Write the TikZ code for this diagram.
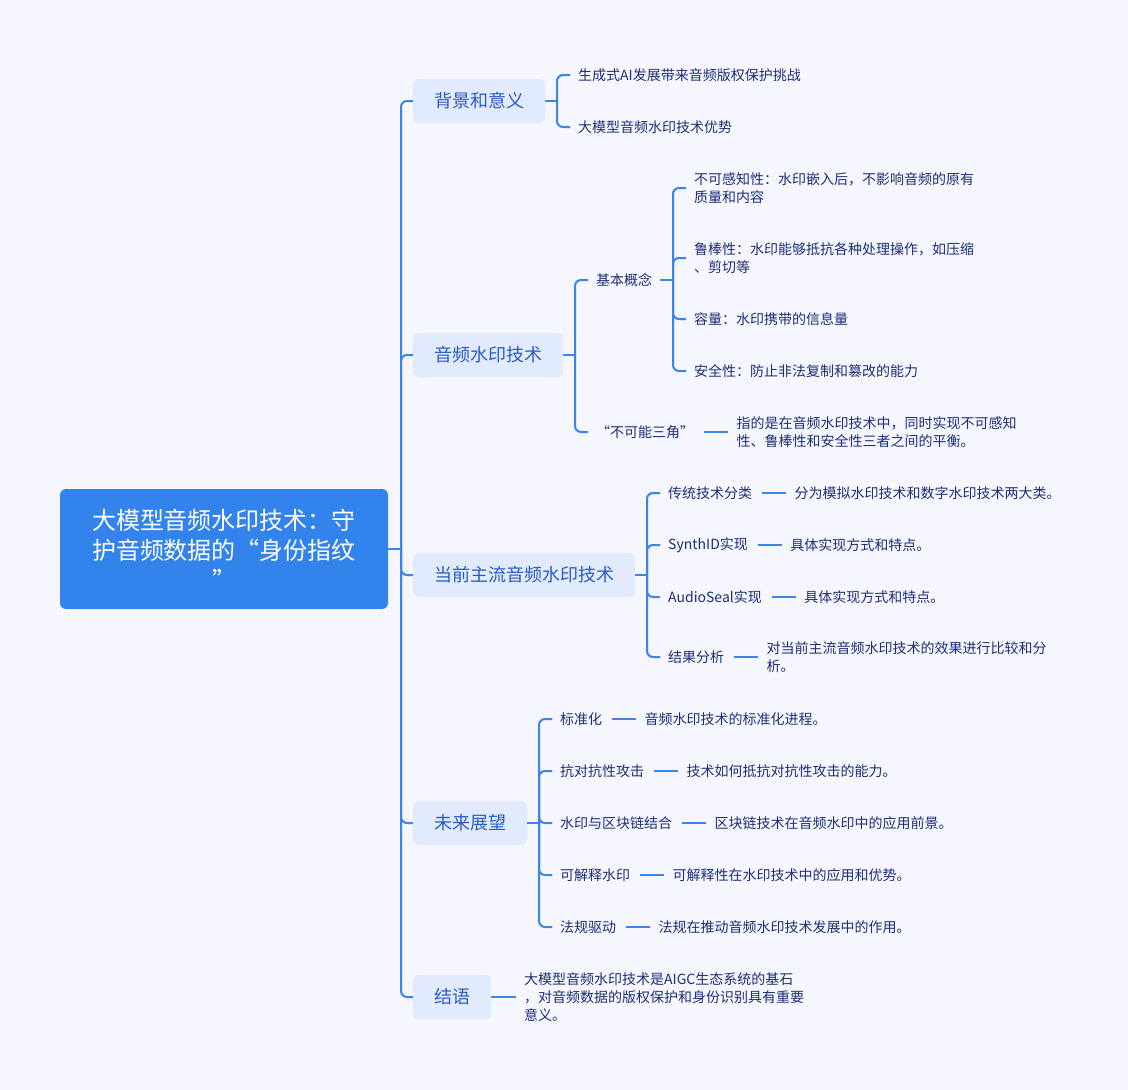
\documentclass[tikz,border=0pt]{standalone}
\usepackage{fontspec}
\setmainfont{Noto Sans CJK SC}
\usetikzlibrary{positioning}
\definecolor{bg}{HTML}{F5F6FE}
\definecolor{ln}{HTML}{3A84EC}
\definecolor{rootc}{HTML}{3283EB}
\definecolor{lonefill}{HTML}{E2EAFD}
\definecolor{lonetext}{HTML}{2A5CC6}
\definecolor{leafc}{HTML}{1F2E78}
\tikzset{
 rootbox/.style={fill=rootc, rounded corners=6pt, text=white, minimum width=328pt, minimum height=120pt, align=center, font=\fontsize{24pt}{30pt}\selectfont, inner sep=0pt},
 lonebox/.style={fill=lonefill, rounded corners=6pt, text=lonetext, minimum height=44pt, inner xsep=21pt, inner ysep=0pt, font=\fontsize{18pt}{22pt}\selectfont, anchor=west},
 leaftext/.style={text=leafc, font=\fontsize{14pt}{18pt}\selectfont, inner sep=0pt, anchor=west, align=left},
 valtext/.style={leaftext, right=42pt of #1},
 conn/.style={draw=ln, line width=2pt, rounded corners=6pt},
}
\begin{document}
\begin{tikzpicture}[x=1pt,y=-1pt]
\fill[bg] (0,0) rectangle (1128,1090);
\useasboundingbox (0,0) rectangle (1128,1090);

% root
\node[rootbox] (root) at (224,549) {大模型音频水印技术：守\\护音频数据的“身份指纹\\”};
\coordinate (t) at (401,549);
\draw[conn] (root.east) -- (t);

% level 1
\node[lonebox] (b1) at (413,101) {背景和意义};
\node[lonebox] (b2) at (413,355) {音频水印技术};
\node[lonebox] (b3) at (413,575) {当前主流音频水印技术};
\node[lonebox] (b4) at (413,823) {未来展望};
\node[lonebox] (b5) at (413,997) {结语};
\foreach \b in {b1,b2,b3,b4,b5} \draw[conn] (t) |- (\b.west);

% b1
\coordinate (j1) at (557,101);
\draw[conn] (b1.east) -- (j1);
\node[leaftext] (c11) at (578,75) {生成式AI发展带来音频版权保护挑战};
\node[leaftext] (c12) at (578,127) {大模型音频水印技术优势};
\foreach \c in {c11,c12} \draw[conn] (j1) |- ([xshift=-8pt]\c.west);

% b2
\coordinate (j2) at (575,355);
\draw[conn] (b2.east) -- (j2);
\node[leaftext] (c21) at (596,280) {基本概念};
\node[leaftext] (c22) at (596,432) {“不可能三角”};
\foreach \c in {c21,c22} \draw[conn] (j2) |- ([xshift=-8pt]\c.west);

\coordinate (j21) at (673,280);
\draw[conn] ([xshift=8pt]c21.east) -- (j21);
\node[leaftext] (d1) at (694,188) {不可感知性：水印嵌入后，不影响音频的原有\\质量和内容};
\node[leaftext] (d2) at (694,258) {鲁棒性：水印能够抵抗各种处理操作，如压缩\\、剪切等};
\node[leaftext] (d3) at (694,319) {容量：水印携带的信息量};
\node[leaftext] (d4) at (694,371) {安全性：防止非法复制和篡改的能力};
\foreach \c in {d1,d2,d3,d4} \draw[conn] (j21) |- ([xshift=-8pt]\c.west);

\node[valtext=c22] (v22) {指的是在音频水印技术中，同时实现不可感知\\性、鲁棒性和安全性三者之间的平衡。};
\draw[conn] ([xshift=10pt]c22.east) -- ([xshift=-8pt]v22.west);

% b3
\coordinate (j3) at (647,575);
\draw[conn] (b3.east) -- (j3);
\node[leaftext] (c31) at (668,493) {传统技术分类};
\node[leaftext] (c32) at (668,545) {SynthID实现};
\node[leaftext] (c33) at (668,597) {AudioSeal实现};
\node[leaftext] (c34) at (668,657) {结果分析};
\foreach \c in {c31,c32,c33,c34} \draw[conn] (j3) |- ([xshift=-8pt]\c.west);
\node[valtext=c31] (v31) {分为模拟水印技术和数字水印技术两大类。};
\node[valtext=c32] (v32) {具体实现方式和特点。};
\node[valtext=c33] (v33) {具体实现方式和特点。};
\node[valtext=c34] (v34) {对当前主流音频水印技术的效果进行比较和分\\析。};
\foreach \k/\v in {c31/v31,c32/v32,c33/v33,c34/v34}
  \draw[conn] ([xshift=10pt]\k.east) -- ([xshift=-8pt]\v.west);

% b4
\coordinate (j4) at (539,823);
\draw[conn] (b4.east) -- (j4);
\node[leaftext] (c41) at (560,719) {标准化};
\node[leaftext] (c42) at (560,771) {抗对抗性攻击};
\node[leaftext] (c43) at (560,823) {水印与区块链结合};
\node[leaftext] (c44) at (560,875) {可解释水印};
\node[leaftext] (c45) at (560,927) {法规驱动};
\foreach \c in {c41,c42,c43,c44,c45} \draw[conn] (j4) |- ([xshift=-8pt]\c.west);
\node[valtext=c41] (v41) {音频水印技术的标准化进程。};
\node[valtext=c42] (v42) {技术如何抵抗对抗性攻击的能力。};
\node[valtext=c43] (v43) {区块链技术在音频水印中的应用前景。};
\node[valtext=c44] (v44) {可解释性在水印技术中的应用和优势。};
\node[valtext=c45] (v45) {法规在推动音频水印技术发展中的作用。};
\foreach \k/\v in {c41/v41,c42/v42,c43/v43,c44/v44,c45/v45}
  \draw[conn] ([xshift=10pt]\k.east) -- ([xshift=-8pt]\v.west);

% b5
\node[leaftext] (v5) at (524,997) {大模型音频水印技术是AIGC生态系统的基石\\，对音频数据的版权保护和身份识别具有重要\\意义。};
\draw[conn] (b5.east) -- ([xshift=-8pt]v5.west);
\end{tikzpicture}
\end{document}
